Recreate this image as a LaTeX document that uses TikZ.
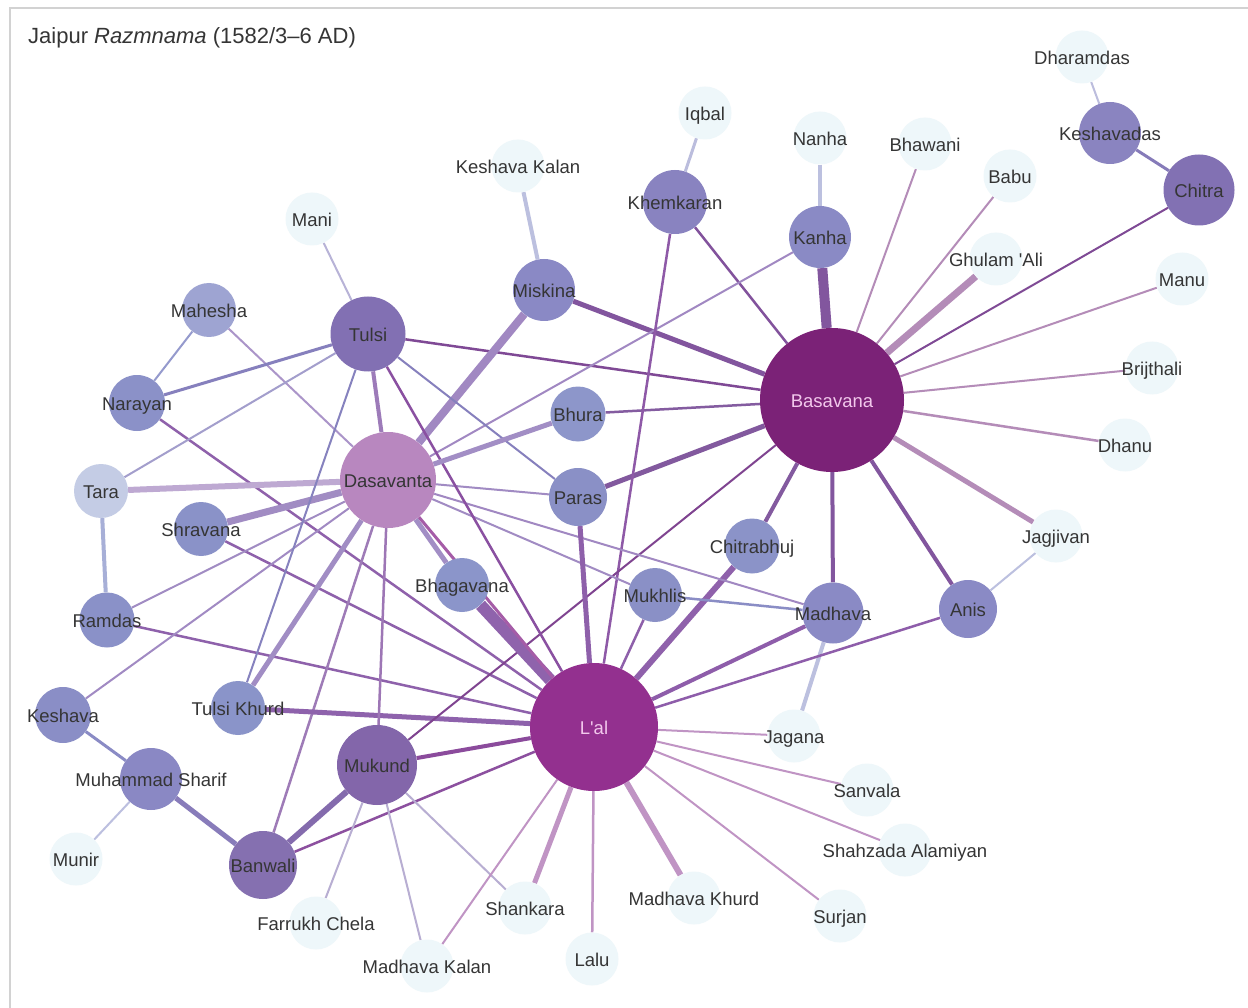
\documentclass[tikz,border=0pt]{standalone}
\usepackage{fontspec}
\setmainfont{Liberation Sans}
\usetikzlibrary{backgrounds}
\definecolor{leaf}{HTML}{EEF7FA}
\definecolor{framec}{HTML}{D2D2D2}
\definecolor{txt}{HTML}{353535}
\definecolor{txtlight}{HTML}{F2C8EC}
\definecolor{cBasavana}{HTML}{7B2277}
\definecolor{cLal}{HTML}{93308F}
\definecolor{cDasavanta}{HTML}{B887BF}
\definecolor{cTulsi}{HTML}{8270B3}
\definecolor{cMukund}{HTML}{8366AA}
\definecolor{cBanwali}{HTML}{8570B0}
\definecolor{cMuhammadSharif}{HTML}{8A88C4}
\definecolor{cKeshava}{HTML}{8A8EC6}
\definecolor{cTulsiKhurd}{HTML}{8A94C9}
\definecolor{cMadhava}{HTML}{8A8AC5}
\definecolor{cAnis}{HTML}{8A8AC5}
\definecolor{cChitra}{HTML}{8271B3}
\definecolor{cKeshavadas}{HTML}{8A84C0}
\definecolor{cKanha}{HTML}{8A8AC5}
\definecolor{cKhemkaran}{HTML}{8983C0}
\definecolor{cMiskina}{HTML}{8A89C5}
\definecolor{cMahesha}{HTML}{9EA4D2}
\definecolor{cNarayan}{HTML}{8B91C8}
\definecolor{cTara}{HTML}{C4CCE5}
\definecolor{cShravana}{HTML}{8A92C8}
\definecolor{cRamdas}{HTML}{8A91C8}
\definecolor{cBhura}{HTML}{8D96CA}
\definecolor{cParas}{HTML}{8A90C6}
\definecolor{cBhagavana}{HTML}{8B95CA}
\definecolor{cMukhlis}{HTML}{8A90C6}
\definecolor{cChitrabhuj}{HTML}{8B93C8}
\colorlet{cMunir}{leaf}
\colorlet{cFarrukhChela}{leaf}
\colorlet{cMadhavaKalan}{leaf}
\colorlet{cShankara}{leaf}
\colorlet{cLalu}{leaf}
\colorlet{cMadhavaKhurd}{leaf}
\colorlet{cSurjan}{leaf}
\colorlet{cShahzadaAlamiyan}{leaf}
\colorlet{cSanvala}{leaf}
\colorlet{cJagana}{leaf}
\colorlet{cJagjivan}{leaf}
\colorlet{cDhanu}{leaf}
\colorlet{cBrijthali}{leaf}
\colorlet{cManu}{leaf}
\colorlet{cDharamdas}{leaf}
\colorlet{cGhulamAli}{leaf}
\colorlet{cBabu}{leaf}
\colorlet{cBhawani}{leaf}
\colorlet{cNanha}{leaf}
\colorlet{cIqbal}{leaf}
\colorlet{cKeshavaKalan}{leaf}
\colorlet{cMani}{leaf}
\newcommand\lnk[3]{\draw[line width=#3pt, draw=c#1!50!c#2] (#1) -- (#2);}
\tikzset{
  dot/.style={circle, inner sep=0pt, draw=none},
  lbl/.style={inner sep=0pt, anchor=base, font=\fontsize{18.5}{20}\selectfont},
}
\begin{document}
\begin{tikzpicture}[x=1pt,y=1pt]
\useasboundingbox (0,0) rectangle (1248,-1008);
% nodes (circles)
\foreach \n/\x/\y/\r in {
Basavana/832/400/72, Lal/594/727/64, Dasavanta/388/480/48, Tulsi/368/334/37.5,
Mukund/377/765/40, Banwali/263/865/34, MuhammadSharif/151/779/31, Keshava/63/715/28,
Munir/76/859/26.5, TulsiKhurd/238/708/27, FarrukhChela/316/923/26.5, MadhavaKalan/427/966/26.5,
Shankara/525/908/26.5, Lalu/592/959/26.5, MadhavaKhurd/694/898/26.5, Surjan/840/916/26.5,
ShahzadaAlamiyan/905/850/26.5, Sanvala/867/790/26.5, Jagana/794/736/26.5, Madhava/833/613/30.5,
Anis/968/609/29, Jagjivan/1056/536/26.5, Dhanu/1125/445/26.5, Brijthali/1152/368/26.5,
Manu/1182/279/26.5, Chitra/1199/190/35.5, Keshavadas/1110/133/31, Dharamdas/1082/57/26.5,
GhulamAli/996/259/26.5, Babu/1010/176/26.5, Bhawani/925/144/26.5, Nanha/820/138/26.5,
Kanha/820/237/31, Khemkaran/675/202/32, Iqbal/705/113/26.5, KeshavaKalan/518/166/26.5,
Miskina/544/290/31, Mani/312/219/26.5, Mahesha/209/310/27, Narayan/137/403/28,
Tara/101/491/27, Shravana/201/529/27, Ramdas/107/620/27.5, Bhura/578/414/27.5,
Paras/578/497/29, Bhagavana/462/585/27, Mukhlis/655/595/27, Chitrabhuj/752/546/27.5}
{ \node[dot, minimum size=2*\r pt, fill=c\n] (\n) at (\x,-\y) {}; }
% labels
\foreach \n/\t in {
Dasavanta/Dasavanta, Tulsi/Tulsi, Mukund/Mukund, Banwali/Banwali, MuhammadSharif/Muhammad Sharif,
Keshava/Keshava, Munir/Munir, TulsiKhurd/Tulsi Khurd, FarrukhChela/Farrukh Chela,
MadhavaKalan/Madhava Kalan, Shankara/Shankara, Lalu/Lalu, MadhavaKhurd/Madhava Khurd,
Surjan/Surjan, ShahzadaAlamiyan/Shahzada Alamiyan, Sanvala/Sanvala, Jagana/Jagana,
Madhava/Madhava, Anis/Anis, Jagjivan/Jagjivan, Dhanu/Dhanu, Brijthali/Brijthali, Manu/Manu,
Chitra/Chitra, Keshavadas/Keshavadas, Dharamdas/Dharamdas, GhulamAli/Ghulam \textquotesingle{}Ali,
Babu/Babu, Bhawani/Bhawani, Nanha/Nanha, Kanha/Kanha, Khemkaran/Khemkaran, Iqbal/Iqbal,
KeshavaKalan/Keshava Kalan, Miskina/Miskina, Mani/Mani, Mahesha/Mahesha, Narayan/Narayan,
Tara/Tara, Shravana/Shravana, Ramdas/Ramdas, Bhura/Bhura, Paras/Paras, Bhagavana/Bhagavana,
Mukhlis/Mukhlis, Chitrabhuj/Chitrabhuj}
{ \node[lbl, text=txt] (\n-t) at ([yshift=-7.3pt]\n.center) {\t}; }
\node[lbl, text=txtlight] (Basavana-t) at ([yshift=-7.3pt]Basavana.center) {Basavana};
\node[lbl, text=txtlight] (Lal-t) at ([yshift=-7.3pt]Lal.center) {L\textquotesingle{}al};
% title
\node[inner sep=0pt, anchor=base west, text=txt, font=\fontsize{22}{24}\selectfont] (title) at (28,-44) {Jaipur \textit{Razmnama} (1582/3–6 AD)};
\begin{scope}[on background layer]
\fill[white] (0,0) rectangle (1248,-1008);
\draw[framec, line width=1.6pt] (10,-1010) -- (10,-8) -- (1250,-8);
\lnk{Dharamdas}{Keshavadas}{2}
\lnk{Keshavadas}{Chitra}{3}
\lnk{Chitra}{Basavana}{2}
\lnk{Iqbal}{Khemkaran}{3}
\lnk{Nanha}{Kanha}{4}
\lnk{Kanha}{Basavana}{10}
\lnk{Bhawani}{Basavana}{2}
\lnk{Babu}{Basavana}{2}
\lnk{GhulamAli}{Basavana}{7}
\lnk{Manu}{Basavana}{2}
\lnk{Brijthali}{Basavana}{2}
\lnk{Dhanu}{Basavana}{2.5}
\lnk{Jagjivan}{Basavana}{5}
\lnk{Jagjivan}{Anis}{2}
\lnk{Anis}{Basavana}{4}
\lnk{Madhava}{Basavana}{4}
\lnk{Chitrabhuj}{Basavana}{4}
\lnk{Khemkaran}{Basavana}{2.5}
\lnk{Miskina}{Basavana}{5}
\lnk{Tulsi}{Basavana}{2.5}
\lnk{Bhura}{Basavana}{2.5}
\lnk{Paras}{Basavana}{5}
\lnk{Kanha}{Dasavanta}{2}
\lnk{Khemkaran}{Lal}{2.5}
\lnk{Miskina}{Dasavanta}{8}
\lnk{KeshavaKalan}{Miskina}{4}
\lnk{Mani}{Tulsi}{2}
\lnk{Mahesha}{Narayan}{2}
\lnk{Mahesha}{Dasavanta}{2}
\lnk{Narayan}{Tulsi}{3}
\lnk{Narayan}{Lal}{2.5}
\lnk{Tara}{Tulsi}{2}
\lnk{Tara}{Dasavanta}{6}
\lnk{Tara}{Ramdas}{4}
\lnk{Shravana}{Dasavanta}{7}
\lnk{Shravana}{Lal}{2.5}
\lnk{Ramdas}{Dasavanta}{2}
\lnk{Ramdas}{Lal}{2.5}
\lnk{Keshava}{Dasavanta}{2}
\lnk{Keshava}{MuhammadSharif}{3}
\lnk{MuhammadSharif}{Munir}{2}
\lnk{MuhammadSharif}{Banwali}{5}
\lnk{Banwali}{Mukund}{6}
\lnk{Banwali}{Lal}{2.5}
\lnk{Banwali}{Dasavanta}{2.5}
\lnk{TulsiKhurd}{Dasavanta}{5}
\lnk{TulsiKhurd}{Tulsi}{2}
\lnk{TulsiKhurd}{Lal}{5}
\lnk{Mukund}{Dasavanta}{2.5}
\lnk{Mukund}{Lal}{4}
\lnk{Mukund}{FarrukhChela}{2}
\lnk{Mukund}{MadhavaKalan}{2}
\lnk{Mukund}{Shankara}{2}
\lnk{Mukund}{Basavana}{2}
\lnk{MadhavaKalan}{Lal}{2}
\lnk{Shankara}{Lal}{5}
\lnk{Lalu}{Lal}{2.5}
\lnk{MadhavaKhurd}{Lal}{6}
\lnk{Surjan}{Lal}{2}
\lnk{ShahzadaAlamiyan}{Lal}{2}
\lnk{Sanvala}{Lal}{2}
\lnk{Jagana}{Lal}{2}
\lnk{Jagana}{Madhava}{4}
\lnk{Madhava}{Lal}{4}
\lnk{Anis}{Lal}{2.5}
\lnk{Chitrabhuj}{Lal}{6}
\lnk{Mukhlis}{Lal}{2.5}
\lnk{Mukhlis}{Madhava}{2.5}
\lnk{Mukhlis}{Dasavanta}{2}
\lnk{Dasavanta}{Madhava}{2}
\lnk{Paras}{Dasavanta}{2}
\lnk{Tulsi}{Paras}{2}
\lnk{Tulsi}{Dasavanta}{4}
\lnk{Tulsi}{Lal}{2.5}
\lnk{Dasavanta}{Bhagavana}{5}
\lnk{Bhagavana}{Lal}{12}
\lnk{Dasavanta}{Lal}{3}
\lnk{Dasavanta}{Bhura}{5}
\lnk{Paras}{Lal}{5}
\end{scope}
\end{tikzpicture}
\end{document}
